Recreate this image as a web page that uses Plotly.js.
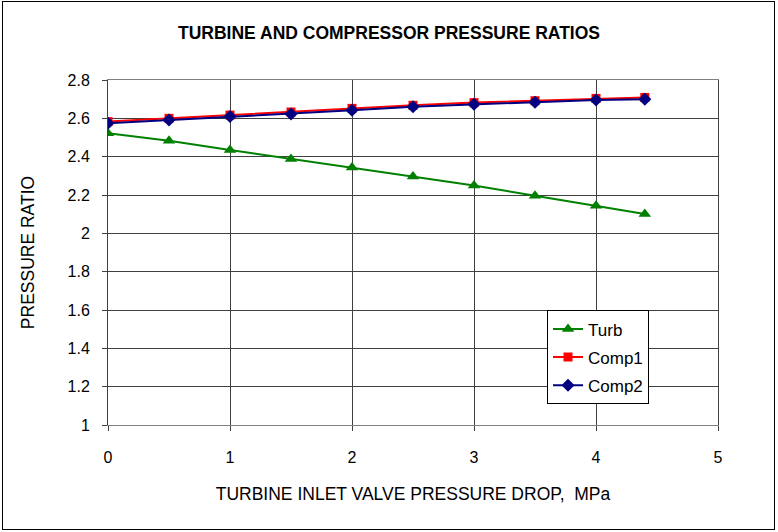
<!DOCTYPE html>
<html>
<head>
<meta charset="utf-8">
<script src="https://cdn.plot.ly/plotly-3.0.1.min.js"></script>
<style>
html,body{margin:0;padding:0;background:#fff;}
#wrap{position:relative;width:778px;height:532px;}
#chart{width:778px;height:532px;}
#frame{position:absolute;left:2px;top:1px;width:773px;height:529px;border:1px solid #000;box-sizing:border-box;pointer-events:none;}
</style>
</head>
<body>
<div id="wrap"><div id="chart"></div><div id="frame"></div></div>
<script>
const xDrop = [0, 0.5, 1, 1.5, 2, 2.5, 3, 3.5, 4, 4.4];
const turb  = [2.522, 2.483, 2.435, 2.388, 2.343, 2.296, 2.249, 2.196, 2.144, 2.101];
const comp1 = [2.583, 2.600, 2.617, 2.633, 2.652, 2.668, 2.682, 2.692, 2.704, 2.709];
const comp2 = [2.574, 2.591, 2.609, 2.623, 2.642, 2.661, 2.673, 2.684, 2.696, 2.699];
const seriesNames = ['Turb', 'Comp1', 'Comp2'];
const yTicks = [1, 1.2, 1.4, 1.6, 1.8, 2, 2.2, 2.4, 2.6, 2.8];
const yTickText = ['1', '1.2', '1.4', '1.6', '1.8', '2', '2.2', '2.4', '2.6', '2.8'];

const font = 'Liberation Sans, Arial, sans-serif';
const traces = [
  {x: xDrop, y: turb, name: seriesNames[0], legendgroup: 'a', mode: 'lines+markers',
   line: {color: '#008000', width: 2}, marker: {symbol: 'triangle-up', size: 11, color: '#008000'}},
  {x: xDrop, y: comp1, name: seriesNames[1], legendgroup: 'b', mode: 'lines+markers',
   line: {color: '#ff0000', width: 2}, marker: {symbol: 'square', size: 9, color: '#ff0000'}},
  {x: xDrop, y: comp2, name: seriesNames[2], legendgroup: 'c', mode: 'lines+markers',
   line: {color: '#000080', width: 2}, marker: {symbol: 'diamond', size: 10, color: '#000080'}}
];

const layout = {
  width: 778, height: 532,
  margin: {l: 108, r: 60, t: 80, b: 107},
  paper_bgcolor: '#fff', plot_bgcolor: '#fff',
  font: {family: font, color: '#000', size: 16},
  title: {text: '<b>TURBINE AND COMPRESSOR PRESSURE RATIOS</b>', x: 0.5, xanchor: 'center', y: 0.938, yanchor: 'middle',
          font: {family: font, size: 17.5, color: '#000'}},
  xaxis: {range: [0, 5], dtick: 1, tick0: 0, showgrid: true, gridcolor: '#404040', gridwidth: 1,
          zeroline: false, showline: true, linecolor: '#808080', linewidth: 1, mirror: true,
          ticks: 'outside', ticklen: 5, tickcolor: '#404040', ticklabelstandoff: 13,
          tickfont: {size: 16},
          title: {text: 'TURBINE INLET VALVE PRESSURE DROP,  MPa', standoff: 22, font: {size: 17.5}}},
  yaxis: {range: [1, 2.8], showgrid: true, gridcolor: '#404040', gridwidth: 1,
          zeroline: false, showline: true, linecolor: '#404040', linewidth: 1, mirror: true,
          ticks: 'outside', ticklen: 5, tickcolor: '#404040', ticklabelstandoff: 9,
          tickvals: yTicks, ticktext: yTickText, tickfont: {size: 16},
          title: {text: 'PRESSURE RATIO', standoff: 28, font: {size: 17.5}}},
  showlegend: true,
  legend: {x: 0.7197, y: 0.332, xanchor: 'left', yanchor: 'top', bgcolor: '#fff',
           bordercolor: '#000', borderwidth: 1, font: {size: 17}, traceorder: 'grouped', tracegroupgap: 3}
};

Plotly.newPlot('chart', traces, layout, {displayModeBar: false, staticPlot: true});
</script>
</body>
</html>
